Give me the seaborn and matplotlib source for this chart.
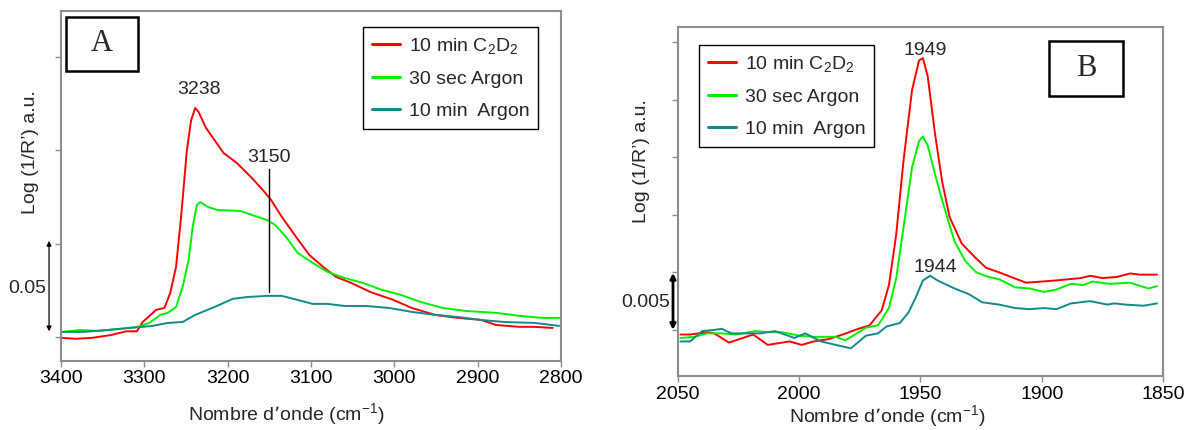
"""
plot.py - two DRIFT spectra panels (A: 3400-2800 cm-1, B: 2050-1850 cm-1)
Writes out.png
"""

import matplotlib
matplotlib.use("Agg")
import matplotlib.pyplot as plt
import pandas as pd
import seaborn as sns
from matplotlib.patches import Rectangle

OUT_FILE = "out.png"
FONT     = ["Liberation Sans", "DejaVu Sans"]
SPINE    = "#8c8c8c"

SERIES = ["10 min C$_\\mathregular{2}$D$_\\mathregular{2}$", "30 sec Argon", "10 min  Argon"]
COLORS = ["#ff0000", "#00f000", "#138a8a"]

# ── Panel A (wavenumber, log(1/R')) ──────────────────────────────────────────
A_RED_X = [3400, 3382, 3363, 3340, 3322, 3309, 3302, 3292, 3286, 3276, 3269, 3262,
           3256, 3249, 3244, 3239, 3235, 3226, 3216, 3205, 3189, 3171, 3158, 3148,
           3135, 3118, 3102, 3084, 3070, 3052, 3029, 3001, 2979, 2951, 2924, 2896,
           2878, 2850, 2832, 2810]
A_RED_Y = [-0.0005, -0.001, -0.0005, 0.001, 0.003, 0.003, 0.008, 0.012, 0.0145, 0.0155,
           0.0235, 0.0375, 0.064, 0.100, 0.116, 0.1227, 0.1206, 0.112, 0.1056, 0.0986,
           0.0932, 0.0852, 0.0788, 0.0734, 0.0643, 0.0536, 0.0439, 0.037, 0.0322, 0.029,
           0.0241, 0.0198, 0.0155, 0.0118, 0.0102, 0.0091, 0.0064, 0.0054, 0.0054, 0.0048]

A_GRN_X = [3398, 3377, 3354, 3331, 3308, 3294, 3281, 3272, 3262, 3254, 3247, 3242,
           3237, 3233, 3224, 3212, 3185, 3171, 3153, 3143, 3130, 3116, 3098, 3080,
           3060, 3038, 3015, 2992, 2969, 2942, 2914, 2878, 2850, 2823, 2802]
A_GRN_Y = [0.0027, 0.0037, 0.0032, 0.0043, 0.0054, 0.0075, 0.0118, 0.0129, 0.016, 0.027,
           0.041, 0.059, 0.0707, 0.0723, 0.0697, 0.068, 0.0675, 0.0654, 0.0627, 0.060,
           0.0536, 0.045, 0.0397, 0.0348, 0.0316, 0.029, 0.0252, 0.0225, 0.0188, 0.0155,
           0.0139, 0.0129, 0.0113, 0.0102, 0.0102]

A_TEAL_X = [3398, 3372, 3345, 3317, 3290, 3272, 3254, 3239, 3216, 3194, 3176, 3153,
            3135, 3116, 3098, 3080, 3060, 3034, 3006, 2979, 2951, 2924, 2896, 2868,
            2832, 2802]
A_TEAL_Y = [0.0027, 0.0027, 0.0037, 0.0048, 0.0059, 0.0075, 0.008, 0.0118, 0.016, 0.0204,
            0.0214, 0.022, 0.022, 0.0198, 0.0177, 0.0177, 0.0166, 0.0166, 0.0155, 0.0134,
            0.0118, 0.0107, 0.0091, 0.008, 0.0075, 0.0059]

# ── Panel B ──────────────────────────────────────────────────────────────────
B_RED_X = [2049, 2045, 2038, 2035, 2029, 2019, 2013, 2004, 1999, 1994, 1988, 1982,
           1977, 1971, 1966, 1963, 1960, 1957, 1953.5, 1950.6, 1949, 1947, 1944, 1941,
           1938, 1933, 1927.5, 1923, 1917.6, 1912.7, 1906.5, 1900, 1894, 1889, 1884,
           1880, 1875, 1869, 1863.6, 1859.5, 1852.5]
B_RED_Y = [-0.0004, -0.0004, -0.0002, -0.0003, -0.0011, -0.0004, -0.0013, -0.001, -0.0013,
           -0.001, -0.0008, -0.0004, 0.0, 0.0004, 0.0017, 0.0039, 0.0083, 0.0147, 0.0208,
           0.0234, 0.0236, 0.022, 0.017, 0.0128, 0.0098, 0.0075, 0.0063, 0.0054, 0.005,
           0.0046, 0.0041, 0.0042, 0.0043, 0.0044, 0.0045, 0.0047, 0.0045, 0.0046, 0.0049,
           0.0048, 0.0048]

B_GRN_X = [2049, 2043, 2038, 2032, 2026, 2018, 2012, 2007, 2000, 1994, 1985, 1981,
           1977, 1972.5, 1967.5, 1963, 1960, 1957, 1953.5, 1950.6, 1949, 1947, 1944,
           1941, 1936, 1931.6, 1927, 1922, 1917.6, 1911, 1905, 1899, 1894, 1888, 1883,
           1879, 1872, 1863.6, 1856, 1852.5]
B_GRN_Y = [-0.0007, -0.0006, -0.0003, -0.0003, -0.0004, -0.0001, -0.0002, -0.0002, -0.0005,
           -0.0006, -0.0006, -0.0009, -0.0004, 0.0002, 0.0004, 0.0019, 0.0045, 0.0089,
           0.0141, 0.0164, 0.0168, 0.016, 0.0135, 0.0112, 0.0077, 0.006, 0.005, 0.0046,
           0.0044, 0.0037, 0.0036, 0.0033, 0.0035, 0.004, 0.0039, 0.0042, 0.004, 0.0041,
           0.0036, 0.0038]

B_TEAL_X = [2049, 2045, 2040, 2035, 2032, 2028, 2021, 2016, 2010, 2002, 1997.6, 1991,
            1985, 1978.7, 1972.5, 1967.5, 1964, 1958.5, 1955, 1952, 1949, 1946, 1943,
            1936, 1930, 1924.6, 1917.6, 1911, 1905, 1899, 1894, 1888, 1880, 1873, 1870,
            1865.6, 1858, 1852.5]
B_TEAL_Y = [-0.001, -0.001, -0.0001, 0.0, 0.0001, -0.0003, -0.0003, -0.0003, -0.0001,
            -0.0007, -0.0003, -0.001, -0.0013, -0.0016, -0.0005, -0.0003, 0.0003, 0.0006,
            0.0015, 0.0028, 0.0043, 0.0047, 0.0043, 0.0036, 0.0031, 0.0024, 0.0022, 0.0019,
            0.0018, 0.0019, 0.0018, 0.0023, 0.0025, 0.0022, 0.0023, 0.0022, 0.0021, 0.0023]

A_XTICKS = [3400, 3300, 3200, 3100, 3000, 2900, 2800]
A_YTICKS = [0.0, 0.05, 0.10, 0.15]
B_XTICKS = [2050, 2000, 1950, 1900, 1850]
B_YTICKS = [0.0, 0.005, 0.010, 0.015, 0.020, 0.025]

A_PEAKS = [(3234, 0.1324, "3238"), (3150, 0.0959, "3150")]
B_PEAKS = [(1948, 0.0243, "1949"), (1944, 0.0054, "1944")]


def to_frame(pairs):
    parts = []
    for name, (xs, ys) in zip(SERIES, pairs):
        parts.append(pd.DataFrame({"wn": xs, "val": ys, "series": name}))
    return pd.concat(parts, ignore_index=True)


def draw_panel(fig, rect, df, xlim, ylim, xticks, yticks, tick_pad):
    ax = fig.add_axes(rect)
    sns.lineplot(
        data=df, x="wn", y="val", hue="series", hue_order=SERIES,
        palette=dict(zip(SERIES, COLORS)), estimator=None, sort=False,
        lw=1.4, ax=ax,
    )
    ax.set_xlim(*xlim); ax.set_ylim(*ylim)
    ax.set_xticks(xticks); ax.set_xticklabels([str(t) for t in xticks])
    ax.set_yticks(yticks); ax.set_yticklabels([])
    ax.set_xlabel(""); ax.set_ylabel("")
    for s in ax.spines.values():
        s.set_color(SPINE); s.set_linewidth(1.5); s.set_visible(True)
    ax.tick_params(axis="both", direction="out", length=4, width=1,
                   color=SPINE, labelsize=14, pad=tick_pad, labelcolor="black")
    ax.tick_params(axis="x", bottom=True)
    ax.tick_params(axis="y", left=True)
    return ax


def add_legend(ax, fig, anchor):
    handles, labels = ax.get_legend_handles_labels()
    leg = ax.legend(
        handles, labels, loc="upper left", bbox_to_anchor=anchor,
        bbox_transform=fig.transFigure, borderaxespad=0, fontsize=14,
        frameon=True, fancybox=False, framealpha=1, edgecolor="black",
        handlelength=1.45, handletextpad=0.45, labelspacing=0.75, borderpad=0.45,
    )
    leg.get_frame().set_linewidth(1.0)
    for h in leg.get_lines():
        h.set_linewidth(2.2)


def add_letter(ax, x0, y0, w, h, letter):
    ax.add_patch(Rectangle((x0, y0), w, h, transform=ax.transAxes, fill=True,
                           fc="white", ec="black", lw=1.8, zorder=5))
    ax.text(x0 + w / 2, y0 + h / 2, letter, transform=ax.transAxes, ha="center",
            va="center", fontsize=22, family=["Liberation Serif", "DejaVu Serif"], zorder=6)


def main() -> None:
    sns.set_style("white")
    plt.rcParams["font.family"] = FONT
    plt.rcParams["mathtext.default"] = "regular"

    fig = plt.figure(figsize=(11.97, 4.30), dpi=100)

    # ── Panel A ──────────────────────────────────────────────────────────────
    df_a = to_frame([(A_RED_X, A_RED_Y), (A_GRN_X, A_GRN_Y), (A_TEAL_X, A_TEAL_Y)])
    ax_a = draw_panel(fig, [0.0510, 0.1605, 0.4177, 0.8140], df_a,
                      (3400, 2800), (-0.0129, 0.1747), A_XTICKS, A_YTICKS, 2.5)
    add_legend(ax_a, fig, (0.3033, 0.9372))
    add_letter(ax_a, 0.010, 0.829, 0.144, 0.154, "A")
    for x, y, s in A_PEAKS:
        ax_a.text(x, y, s, ha="center", va="center", fontsize=14)
    ax_a.plot([3150, 3150], [0.090, 0.0241], color="black", lw=1)

    tr_a = ax_a.get_yaxis_transform()
    ax_a.annotate("", xy=(-0.024, 0.0515), xytext=(-0.024, 0.003),
                  xycoords=tr_a, textcoords=tr_a,
                  arrowprops=dict(arrowstyle="<|-|>", color="black", lw=0.9,
                                  mutation_scale=7, shrinkA=0, shrinkB=0))
    ax_a.text(-0.067, 0.0257, "0.05", transform=tr_a, ha="center", va="center", fontsize=14)

    # ── Panel B ──────────────────────────────────────────────────────────────
    df_b = to_frame([(B_RED_X, B_RED_Y), (B_GRN_X, B_GRN_Y), (B_TEAL_X, B_TEAL_Y)])
    ax_b = draw_panel(fig, [0.5664, 0.1256, 0.4052, 0.8116], df_b,
                      (2050, 1850), (-0.0040, 0.0263), B_XTICKS, B_YTICKS, 3.5)
    add_legend(ax_b, fig, (0.5840, 0.8953))
    add_letter(ax_b, 0.765, 0.802, 0.153, 0.158, "B")
    for x, y, s in B_PEAKS:
        ax_b.text(x, y, s, ha="center", va="center", fontsize=14, zorder=6)

    tr_b = ax_b.get_yaxis_transform()
    ax_b.annotate("", xy=(-0.0103, 0.00495), xytext=(-0.0103, 0.0),
                  xycoords=tr_b, textcoords=tr_b,
                  arrowprops=dict(arrowstyle="<|-|>", color="black", lw=2.0,
                                  mutation_scale=8, shrinkA=0, shrinkB=0))
    ax_b.text(-0.0165, 0.00234, "0.005", transform=tr_b, ha="right", va="center", fontsize=14)

    # ── Axis titles (figure text, as in the original layout) ────────────────
    fig.text(30.5 / 1197, 1 - 152 / 430, "Log (1/R’) a.u.", rotation=90,
             ha="center", va="center", fontsize=14)
    fig.text(642 / 1197, 1 - 161 / 430, "Log (1/R’) a.u.", rotation=90,
             ha="center", va="center", fontsize=14)
    fig.text(286 / 1197, 1 - 414 / 430, "Nombre d’onde (cm$^{-1}$)",
             ha="center", va="center", fontsize=14)
    fig.text(887 / 1197, 1 - 416 / 430, "Nombre d’onde (cm$^{-1}$)",
             ha="center", va="center", fontsize=14)

    fig.savefig(OUT_FILE, dpi=100)
    plt.close(fig)
    print(f"[SAVED] {OUT_FILE}")


if __name__ == "__main__":
    main()
